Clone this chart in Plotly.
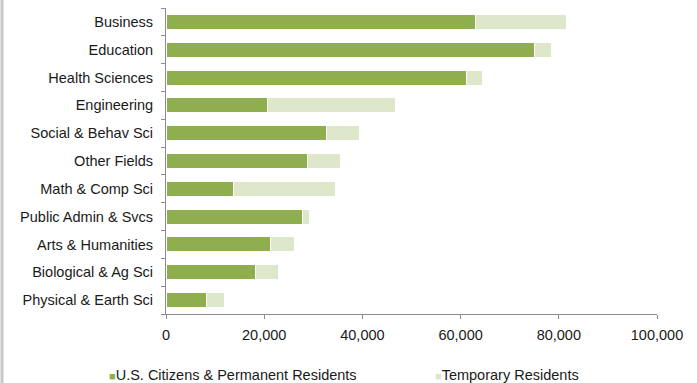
import plotly.graph_objects as go

categories = ["Business", "Education", "Health Sciences", "Engineering", "Social & Behav Sci",
              "Other Fields", "Math & Comp Sci", "Public Admin & Svcs", "Arts & Humanities",
              "Biological & Ag Sci", "Physical & Earth Sci"]
us_citizens = [63000, 75000, 61100, 20600, 32700, 28800, 13700, 27900, 21200, 18300, 8300]
totals = [81500, 78600, 64500, 46700, 39400, 35500, 34600, 29300, 26100, 22900, 11900]
temporary = [t - u for t, u in zip(totals, us_citizens)]
x_ticks = [0, 20000, 40000, 60000, 80000, 100000]
x_tick_labels = ["0", "20,000", "40,000", "60,000", "80,000", "100,000"]
series_names = ["U.S. Citizens & Permanent Residents", "Temporary Residents"]
series_colors = ["#8FAE4E", "#DEE7CA"]

fig = go.Figure()
fig.add_trace(go.Bar(y=categories, x=us_citizens, orientation="h",
                     name=series_names[0],
                     marker=dict(color=series_colors[0], line=dict(color="white", width=1))))
fig.add_trace(go.Bar(y=categories, x=temporary, orientation="h",
                     name=series_names[1],
                     marker=dict(color=series_colors[1], line=dict(color="white", width=1))))

L, R, T, B = 166, 40, 8, 69
pw, ph = 697 - L - R, 383 - T - B

legend_x = [(107 - L) / pw, (433 - L) / pw]
annotations = []
for name, col, lx in zip(series_names, series_colors, legend_x):
    annotations.append(dict(
        xref="paper", yref="paper", x=lx, y=-(375 - (T + ph)) / ph,
        xanchor="left", yanchor="middle", showarrow=False,
        text=f"<span style='color:{col};font-size:11px'>■</span>{name}",
        font=dict(size=14.5, color="#1a1a1a")))

fig.update_layout(
    barmode="stack", bargap=0.46,
    width=697, height=383,
    margin=dict(l=L, r=R, t=T, b=B, autoexpand=False),
    paper_bgcolor="white", plot_bgcolor="white",
    font=dict(family="Liberation Sans, Arial, sans-serif", size=14.5, color="#1a1a1a"),
    showlegend=False,
    annotations=annotations,
    xaxis=dict(range=[0, 100000], tickvals=x_ticks, ticktext=x_tick_labels,
               showgrid=False, zeroline=False, showline=True, linecolor="#8c8c8c",
               ticks="outside", ticklen=4, tickcolor="#8c8c8c", fixedrange=True,
               ticklabelstandoff=4),
    yaxis=dict(categoryorder="array", categoryarray=categories[::-1],
               showgrid=False, showline=True, linecolor="#8c8c8c",
               ticks="outside", ticklen=4, tickcolor="#8c8c8c", tickson="boundaries",
               ticklabelstandoff=9),
    shapes=[dict(type="line", xref="paper", yref="paper", x0=-(L - 2) / pw, x1=-(L - 2) / pw,
                 y0=-B / ph, y1=1 + T / ph, line=dict(color="#c8c8c8", width=3))],
)

fig.write_html("out.html")
